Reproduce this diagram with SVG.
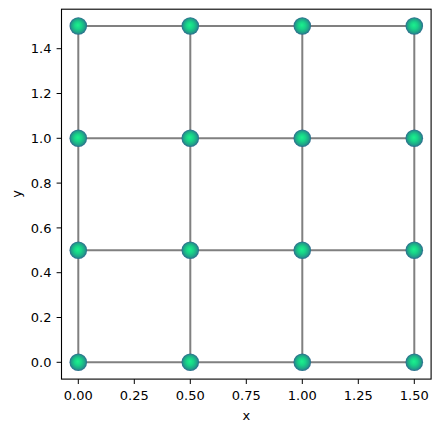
<svg xmlns="http://www.w3.org/2000/svg" width="440" height="432" viewBox="0 0 440 432">
<style>
.tick{stroke:#000;stroke-width:1}
.lbl{font-family:"DejaVu Sans",sans-serif;font-size:13px;fill:#000}
.edge{stroke:#808080;stroke-width:2;fill:none}
.node{fill:url(#g);stroke:none}
</style>
<defs>
<radialGradient id="g" cx="0.5" cy="0.5" r="0.5" fx="0.47" fy="0.45">
<stop offset="0" stop-color="#1cf08e"/>
<stop offset="0.4" stop-color="#18d488"/>
<stop offset="0.75" stop-color="#20a488"/>
<stop offset="1" stop-color="#2e6a8e"/>
</radialGradient>
</defs>
<rect width="440" height="432" fill="#fff"/>
<g id="connectors">
<path class="edge" d="M78.3 26H414.3M78.3 138.3H414.3M78.3 250.3H414.3M78.3 362.3H414.3M78.3 26V362.3M190.3 26V362.3M302.3 26V362.3M414.3 26V362.3"/>
</g>
<g id="nodes">
<g id="n00"><circle class="node" cx="78.3" cy="362.3" r="8.8"/></g>
<g id="n10"><circle class="node" cx="190.3" cy="362.3" r="8.8"/></g>
<g id="n20"><circle class="node" cx="302.3" cy="362.3" r="8.8"/></g>
<g id="n30"><circle class="node" cx="414.3" cy="362.3" r="8.8"/></g>
<g id="n01"><circle class="node" cx="78.3" cy="250.3" r="8.8"/></g>
<g id="n11"><circle class="node" cx="190.3" cy="250.3" r="8.8"/></g>
<g id="n21"><circle class="node" cx="302.3" cy="250.3" r="8.8"/></g>
<g id="n31"><circle class="node" cx="414.3" cy="250.3" r="8.8"/></g>
<g id="n02"><circle class="node" cx="78.3" cy="138.3" r="8.8"/></g>
<g id="n12"><circle class="node" cx="190.3" cy="138.3" r="8.8"/></g>
<g id="n22"><circle class="node" cx="302.3" cy="138.3" r="8.8"/></g>
<g id="n32"><circle class="node" cx="414.3" cy="138.3" r="8.8"/></g>
<g id="n03"><circle class="node" cx="78.3" cy="26" r="8.8"/></g>
<g id="n13"><circle class="node" cx="190.3" cy="26" r="8.8"/></g>
<g id="n23"><circle class="node" cx="302.3" cy="26" r="8.8"/></g>
<g id="n33"><circle class="node" cx="414.3" cy="26" r="8.8"/></g>
</g>
<g id="axes">
<rect x="61.5" y="9.2" width="369.6" height="369.9" fill="none" stroke="#000" stroke-width="1.1"/>
<path class="tick" d="M78.3 379.1v4.9M134.3 379.1v4.9M190.3 379.1v4.9M246.3 379.1v4.9M302.3 379.1v4.9M358.3 379.1v4.9M414.3 379.1v4.9"/>
<path class="tick" d="M61.5 362.3h-4.9M61.5 317.5h-4.9M61.5 272.7h-4.9M61.5 227.9h-4.9M61.5 183.1h-4.9M61.5 138.3h-4.9M61.5 93.5h-4.9M61.5 48.7h-4.9"/>
<g class="lbl" text-anchor="middle">
<text x="78.3" y="399.5">0.00</text>
<text x="134.3" y="399.5">0.25</text>
<text x="190.3" y="399.5">0.50</text>
<text x="246.3" y="399.5">0.75</text>
<text x="302.3" y="399.5">1.00</text>
<text x="358.3" y="399.5">1.25</text>
<text x="414.3" y="399.5">1.50</text>
<text x="246.3" y="420">x</text>
</g>
<g class="lbl" text-anchor="end">
<text x="51.5" y="367">0.0</text>
<text x="51.5" y="322.2">0.2</text>
<text x="51.5" y="277.4">0.4</text>
<text x="51.5" y="232.6">0.6</text>
<text x="51.5" y="187.8">0.8</text>
<text x="51.5" y="143">1.0</text>
<text x="51.5" y="98.2">1.2</text>
<text x="51.5" y="53.4">1.4</text>
</g>
<text class="lbl" text-anchor="middle" transform="translate(21 194) rotate(-90)">y</text>
</g>
</svg>
